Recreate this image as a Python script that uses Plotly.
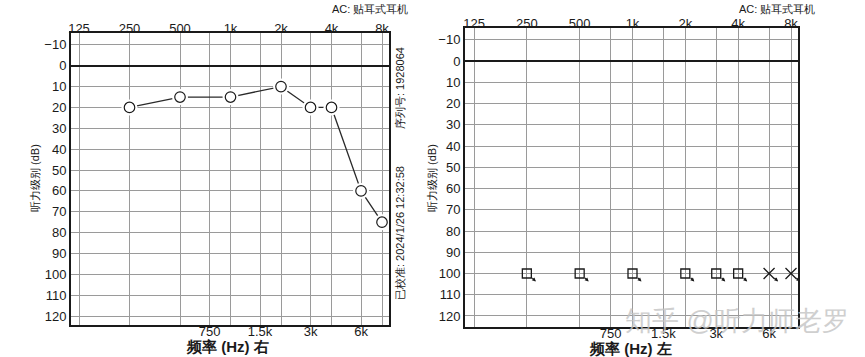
import math
import plotly.graph_objects as go

# ---- data ----
grid_freqs = [125, 250, 500, 750, 1000, 1500, 2000, 3000, 4000, 6000, 8000]
top_ticks = [125, 250, 500, 1000, 2000, 4000, 8000]
top_labels = ["125", "250", "500", "1k", "2k", "4k", "8k"]
bottom_ticks = [750, 1500, 3000, 6000]
bottom_labels = ["750", "1.5k", "3k", "6k"]
db_ticks = [-10, 0, 10, 20, 30, 40, 50, 60, 70, 80, 90, 100, 110, 120]

right_ear_freq = [250, 500, 1000, 2000, 3000, 4000, 6000, 8000]
right_ear_db = [20, 15, 15, 10, 20, 20, 60, 75]

left_sq_freq = [250, 500, 1000, 2000, 3000, 4000]
left_sq_db = [100, 100, 100, 100, 100, 100]
left_x_freq = [6000, 8000]
left_x_db = [100, 100]

FONT = "Liberation Sans, Arial, sans-serif"
INK = "#1a1a1a"
GRID = "#9a9a9a"

fig = go.Figure()

# right ear (left chart)
fig.add_trace(go.Scatter(x=right_ear_freq, y=right_ear_db, mode="lines",
                         line=dict(color="#2a2a2a", width=1.3),
                         xaxis="x", yaxis="y", showlegend=False, hoverinfo="skip"))
fig.add_trace(go.Scatter(x=right_ear_freq, y=right_ear_db, mode="markers",
                         marker=dict(symbol="circle", size=16, color="white",
                                     line=dict(width=0)),
                         xaxis="x", yaxis="y", showlegend=False, hoverinfo="skip"))
fig.add_trace(go.Scatter(x=right_ear_freq, y=right_ear_db, mode="markers",
                         marker=dict(symbol="circle-open", size=10.5, color=INK,
                                     line=dict(width=1.2, color=INK)),
                         xaxis="x", yaxis="y", showlegend=False))

# left ear (right chart)
fig.add_trace(go.Scatter(x=left_sq_freq, y=left_sq_db, mode="markers",
                         marker=dict(symbol="square-open", size=9, color=INK,
                                     line=dict(width=1.3, color=INK)),
                         xaxis="x3", yaxis="y2", showlegend=False))
fig.add_trace(go.Scatter(x=left_x_freq, y=left_x_db, mode="markers",
                         marker=dict(symbol="x-thin-open", size=11, color=INK,
                                     line=dict(width=1.3, color=INK)),
                         xaxis="x3", yaxis="y2", showlegend=False))
# invisible traces so top axes render
fig.add_trace(go.Scatter(x=top_ticks, y=[None] * len(top_ticks), mode="markers",
                         xaxis="x2", yaxis="y", showlegend=False, hoverinfo="skip"))
fig.add_trace(go.Scatter(x=top_ticks, y=[None] * len(top_ticks), mode="markers",
                         xaxis="x4", yaxis="y2", showlegend=False, hoverinfo="skip"))

annotations = []
for f, d in list(zip(left_sq_freq, left_sq_db)) + list(zip(left_x_freq, left_x_db)):
    annotations.append(dict(x=math.log10(f), y=d, xref="x3", yref="y2", text="",
                            showarrow=True, arrowhead=2, arrowsize=0.7, arrowwidth=1.1,
                            arrowcolor=INK, ax=-5, ay=-5, xshift=9, yshift=-8))

bottom_text = [bottom_labels[bottom_ticks.index(f)] if f in bottom_ticks else "" for f in grid_freqs]

def xbottom(domain, rng, anchor):
    return dict(type="log", domain=domain, range=rng, anchor=anchor, automargin=False,
                tickvals=grid_freqs, ticktext=bottom_text, ticks="",
                ticklabelstandoff=-7,
                showgrid=True, gridcolor=GRID, gridwidth=1,
                showline=True, linecolor=INK, linewidth=2, mirror=True,
                tickfont=dict(family=FONT, size=13, color=INK), zeroline=False)

def xtop(over, rng, anchor):
    return dict(type="log", overlaying=over, side="top", range=rng, anchor=anchor,
                automargin=False, ticklabelstandoff=-4,
                tickvals=top_ticks, ticktext=top_labels, ticks="",
                showgrid=False, showline=False, zeroline=False,
                tickfont=dict(family=FONT, size=13, color=INK))

def ydef(domain, rng, anchor):
    return dict(domain=domain, range=rng, anchor=anchor, tickvals=db_ticks,
                automargin=False,
                ticks="", showgrid=True, gridcolor=GRID, gridwidth=1,
                showline=True, linecolor=INK, linewidth=2, mirror=True,
                zeroline=True, zerolinecolor=INK, zerolinewidth=1.6,
                tickfont=dict(family=FONT, size=13, color=INK))

W, H = 865, 357
L_rng = [2.0492, 3.9448]
R_rng = [2.0456, 3.9430]

layout_axes = dict(
    xaxis=xbottom([71 / W, 389 / W], L_rng, "y"),
    xaxis2=xtop("x", L_rng, "y"),
    yaxis=ydef([1 - 325 / H, 1 - 33 / H], [124.3, -15.7], "x"),
    xaxis3=xbottom([465 / W, 798 / W], R_rng, "y2"),
    xaxis4=xtop("x3", R_rng, "y2"),
    yaxis2=ydef([1 - 327 / H, 1 - 28 / H], [125.2, -15.6], "x3"),
)

def px(x, y, text, size=12, angle=0, xanchor="center", yanchor="middle", color=INK, opacity=1):
    return dict(x=x / W, y=1 - y / H, xref="paper", yref="paper", text=text,
                showarrow=False, textangle=angle, xanchor=xanchor, yanchor=yanchor,
                font=dict(family=FONT, size=size, color=color), opacity=opacity)

annotations += [
    px(370, 9, "AC: 贴耳式耳机", size=11),
    px(777, 9, "AC: 贴耳式耳机", size=11),
    px(35, 178, "听力级别 (dB)", size=11, angle=-90),
    px(432, 178, "听力级别 (dB)", size=11, angle=-90),
    px(228, 346, "<b>频率 (Hz) 右</b>", size=15),
    px(630, 348, "<b>频率 (Hz) 左</b>", size=15),
    px(400, 88, "序列号: 1928064", size=11, angle=-90),
    px(400, 233, "已校准: 2024/1/26 12:32:58", size=11, angle=-90),
    px(737, 321, "知乎 @听力师老罗", size=27, color="#c4c4c4", opacity=0.8),
]

fig.update_layout(width=W, height=H, margin=dict(l=0, r=0, t=0, b=0),
                  paper_bgcolor="white", plot_bgcolor="white",
                  annotations=annotations, **layout_axes)

fig.write_html("out.html", config={"displayModeBar": False},
               post_script="document.body.style.margin='0';document.body.style.overflow='hidden';")
